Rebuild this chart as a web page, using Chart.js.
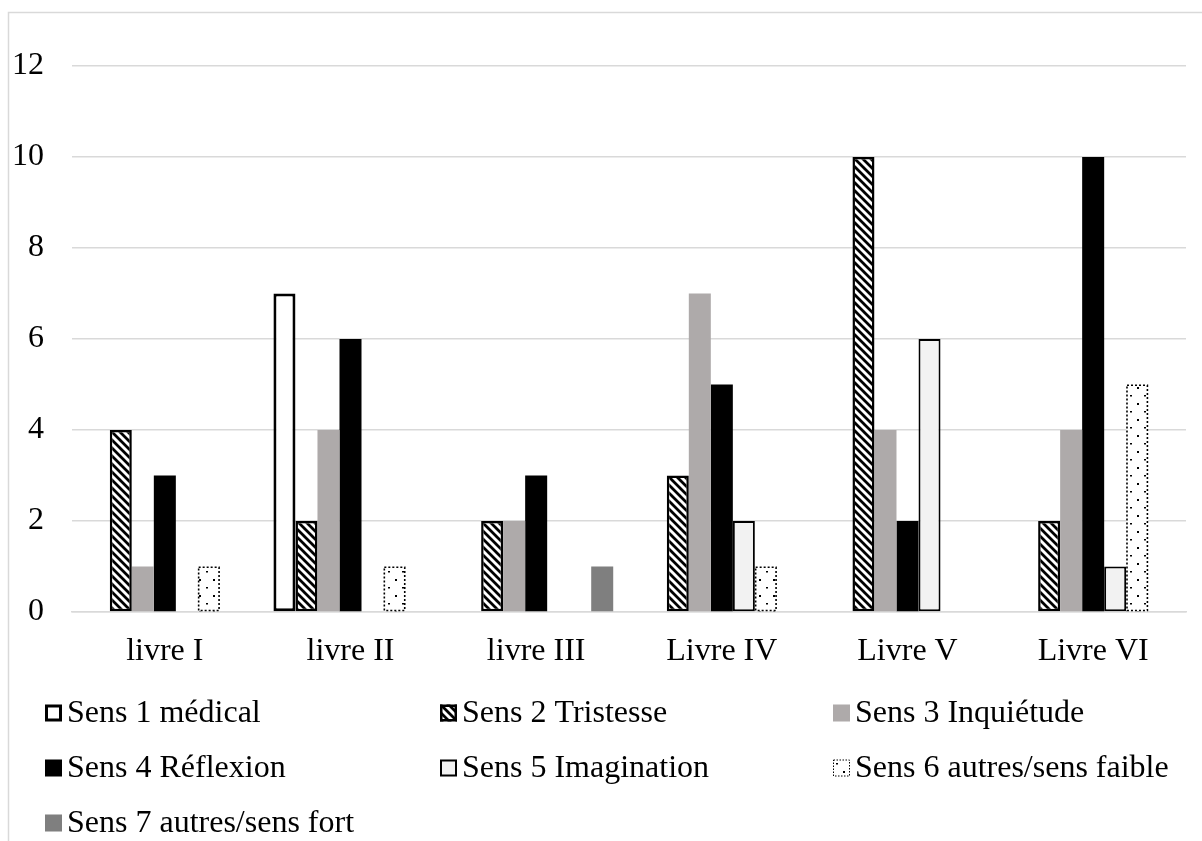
<!DOCTYPE html>
<html><head><meta charset="utf-8">
<script src="https://cdn.jsdelivr.net/npm/chart.js@4.4.1/dist/chart.umd.min.js"></script>
<style>html,body{margin:0;padding:0;background:#fff;overflow:hidden}</style>
</head><body>
<canvas id="c" width="1202" height="841"></canvas>
<script>
// ---- data ----
const categories = ['livre I', 'livre II', 'livre III', 'Livre IV', 'Livre V', 'Livre VI'];
const seriesNames = ['Sens 1 médical', 'Sens 2 Tristesse', 'Sens 3 Inquiétude', 'Sens 4 Réflexion',
  'Sens 5 Imagination', 'Sens 6 autres/sens faible', 'Sens 7 autres/sens fort'];
const sens1 = [0, 7, 0, 0, 0, 0];
const sens2 = [4, 2, 2, 3, 10, 2];
const sens3 = [1, 4, 2, 7, 4, 4];
const sens4 = [3, 6, 3, 5, 2, 10];
const sens5 = [0, 0, 0, 2, 6, 1];
const sens6 = [1, 1, 0, 1, 0, 5];
const sens7 = [0, 0, 1, 0, 0, 0];
const yTicks = [0, 2, 4, 6, 8, 10, 12];
const seriesValues = [sens1, sens2, sens3, sens4, sens5, sens6, sens7];

// ---- patterns ----
function hatchPattern() {
  const t = document.createElement('canvas'); t.width = 8; t.height = 8;
  const g = t.getContext('2d');
  g.fillStyle = '#fff'; g.fillRect(0, 0, 8, 8);
  g.strokeStyle = '#000'; g.lineWidth = 2.8; g.lineCap = 'square';
  g.beginPath();
  for (const k of [-8, 0, 8]) { g.moveTo(k - 2, -2); g.lineTo(k + 10, 10); }
  g.stroke();
  return g.createPattern(t, 'repeat');
}
function dotPattern() {
  const t = document.createElement('canvas'); t.width = 14; t.height = 16;
  const g = t.getContext('2d');
  g.fillStyle = '#fff'; g.fillRect(0, 0, 14, 16);
  g.fillStyle = '#000';
  g.fillRect(3, 3, 2, 2);
  g.fillRect(10, 11, 2, 1.5);
  return g.createPattern(t, 'repeat');
}
const hatch = hatchPattern();
const dots = dotPattern();

const styles = [
  { bg: '#ffffff', border: '#000', bw: 3 },
  { bg: hatch, border: '#000', bw: 2.5 },
  { bg: '#AEAAAA', border: '#AEAAAA', bw: 0 },
  { bg: '#000000', border: '#000', bw: 0 },
  { bg: '#F2F2F2', border: '#000', bw: 2 },
  { bg: dots, border: '#000', bw: 0, dotted: true },
  { bg: '#7F7F7F', border: '#7F7F7F', bw: 0 }
];

const FONT = "'Liberation Serif', 'Times New Roman', serif";

const datasets = seriesNames.map((name, i) => ({
  label: name,
  data: seriesValues[i],
  backgroundColor: styles[i].bg,
  borderColor: styles[i].border,
  borderWidth: styles[i].bw,
  borderSkipped: false,
  barPercentage: 1,
  categoryPercentage: 0.83
}));

// ---- plugins ----
const frame = {
  id: 'frame',
  beforeDraw(chart) {
    const c = chart.ctx;
    c.save();
    c.fillStyle = '#fff'; c.fillRect(0, 0, chart.width, chart.height);
    c.strokeStyle = '#d9d9d9'; c.lineWidth = 1.5;
    c.strokeRect(8.5, 12.5, chart.width + 20, chart.height + 20);
    c.restore();
  }
};

const dottedBorders = {
  id: 'dottedBorders',
  afterDatasetsDraw(chart) {
    const c = chart.ctx;
    chart.data.datasets.forEach((ds, i) => {
      if (!styles[i].dotted) return;
      const meta = chart.getDatasetMeta(i);
      meta.data.forEach((el, j) => {
        if (!ds.data[j]) return;
        const p = el.getProps(['x', 'y', 'base', 'width'], true);
        c.save();
        c.strokeStyle = '#000'; c.lineWidth = 1.6; c.setLineDash([2, 2]);
        c.strokeRect(p.x - p.width / 2 + 0.8, p.y + 0.8, p.width - 1.6, p.base - p.y - 1.6);
        c.restore();
      });
    });
  }
};

const gridLegend = {
  id: 'gridLegend',
  afterDraw(chart) {
    const c = chart.ctx;
    const cols = [45, 440, 833];
    const rows = [713, 768, 823];
    const box = 17;
    c.save();
    c.font = '32px ' + FONT;
    c.textBaseline = 'middle';
    c.textAlign = 'left';
    chart.data.datasets.forEach((ds, i) => {
      const x = cols[i % 3], y = rows[Math.floor(i / 3)];
      const st = styles[i];
      c.fillStyle = st.bg;
      c.fillRect(x, y - box / 2, box, box);
      if (st.bw > 0) {
        c.strokeStyle = st.border; c.lineWidth = st.bw;
        c.strokeRect(x + st.bw / 2, y - box / 2 + st.bw / 2, box - st.bw, box - st.bw);
      }
      if (st.dotted) {
        c.strokeStyle = '#000'; c.lineWidth = 1; c.setLineDash([1.5, 1.5]);
        c.strokeRect(x + 0.5, y - box / 2 + 0.5, box - 1, box - 1);
        c.setLineDash([]);
      }
      c.fillStyle = '#000';
      c.fillText(ds.label, x + box + 5, y + 1);
    });
    c.restore();
  }
};

new Chart(document.getElementById('c'), {
  type: 'bar',
  data: { labels: categories, datasets },
  options: {
    responsive: false,
    devicePixelRatio: 1,
    animation: false,
    layout: { padding: { left: 9, right: 16, top: 66, bottom: 169 } },
    plugins: { legend: { display: false }, tooltip: { enabled: false } },
    scales: {
      x: {
        grid: { display: false, drawTicks: false },
        border: { display: true, color: '#d9d9d9', width: 1.5 },
        ticks: { color: '#000', font: { family: FONT, size: 32 }, padding: 20, maxRotation: 0 },
        afterFit(s) { s.height = 60; }
      },
      y: {
        min: 0, max: 12,
        grid: { color: '#d9d9d9', lineWidth: 1.5, drawTicks: false },
        border: { display: false },
        afterBuildTicks(s) { s.ticks = yTicks.map(v => ({ value: v })); },
        ticks: { color: '#000', font: { family: FONT, size: 32 }, padding: 28 },
        afterFit(s) { s.width = 63; }
      }
    }
  },
  plugins: [frame, dottedBorders, gridLegend]
});
</script>
</body></html>
